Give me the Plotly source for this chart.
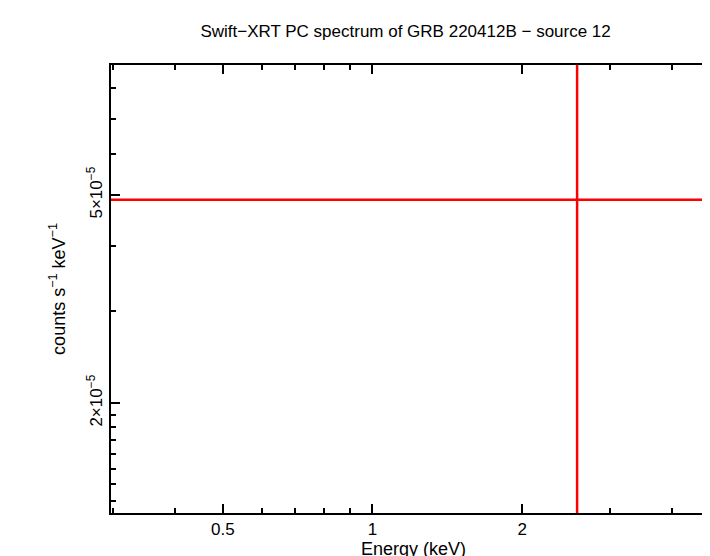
import plotly.graph_objects as go

energy = [2.58]
energy_lo = [0.2]
energy_hi = [10.0]
rate = [4.9e-5]
rate_lo = [0.8e-5]
rate_hi = [1.2e-4]

x_ticks = [0.5, 1, 2]
x_labels = ["0.5", "1", "2"]
x_minor = [0.3, 0.4, 0.6, 0.7, 0.8, 0.9, 3, 4]
y_ticks = [2e-5, 5e-5]
y_labels = ["2×10<sup>−5</sup>", "5×10<sup>−5</sup>"]
y_minor = [1.3e-5, 1.4e-5, 1.5e-5, 1.6e-5, 1.7e-5, 1.8e-5, 1.9e-5, 3e-5, 4e-5, 6e-5, 7e-5, 8e-5]

fig = go.Figure(go.Scatter(
    x=energy, y=rate, mode="markers", marker=dict(size=1, color="red"),
    error_x=dict(type="data", symmetric=False,
                 array=[h - e for h, e in zip(energy_hi, energy)],
                 arrayminus=[e - l for e, l in zip(energy, energy_lo)],
                 color="red", thickness=2.5, width=0),
    error_y=dict(type="data", symmetric=False,
                 array=[h - r for h, r in zip(rate_hi, rate)],
                 arrayminus=[r - l for r, l in zip(rate, rate_lo)],
                 color="red", thickness=2.5, width=0),
    showlegend=False))

axis_common = dict(type="log", showgrid=False, zeroline=False, showline=True, automargin=False,
                   linecolor="black", linewidth=2, mirror="allticks",
                   ticks="inside", ticklen=9, tickwidth=1.5, tickcolor="black",
                   tickfont=dict(family="Liberation Sans", size=17, color="black"))
fig.update_xaxes(**axis_common, range=[-0.526, 0.691], tickvals=x_ticks, ticktext=x_labels,
                 minor=dict(tickvals=x_minor, ticks="inside", ticklen=5, tickcolor="black"),
                 title=dict(text="Energy (keV)", font=dict(family="Liberation Sans", size=18, color="black"), standoff=2))
fig.update_yaxes(**axis_common, range=[-4.909, -4.052], tickvals=y_ticks, ticktext=y_labels,
                 tickangle=-90,
                 minor=dict(tickvals=y_minor, ticks="inside", ticklen=5, tickcolor="black"),
                 title=dict(text="counts s<sup>−1</sup> keV<sup>−1</sup>", font=dict(family="Liberation Sans", size=18, color="black"), standoff=14))
fig.update_layout(
    width=710, height=556, margin=dict(l=103, r=2, t=57, b=51),
    plot_bgcolor="white", paper_bgcolor="white",
    title=dict(text="Swift−XRT PC spectrum of GRB 220412B − source 12", x=0.56, y=0.97,
               xanchor="center", font=dict(family="Liberation Sans", size=17, color="black")))
fig.write_html("out.html")
